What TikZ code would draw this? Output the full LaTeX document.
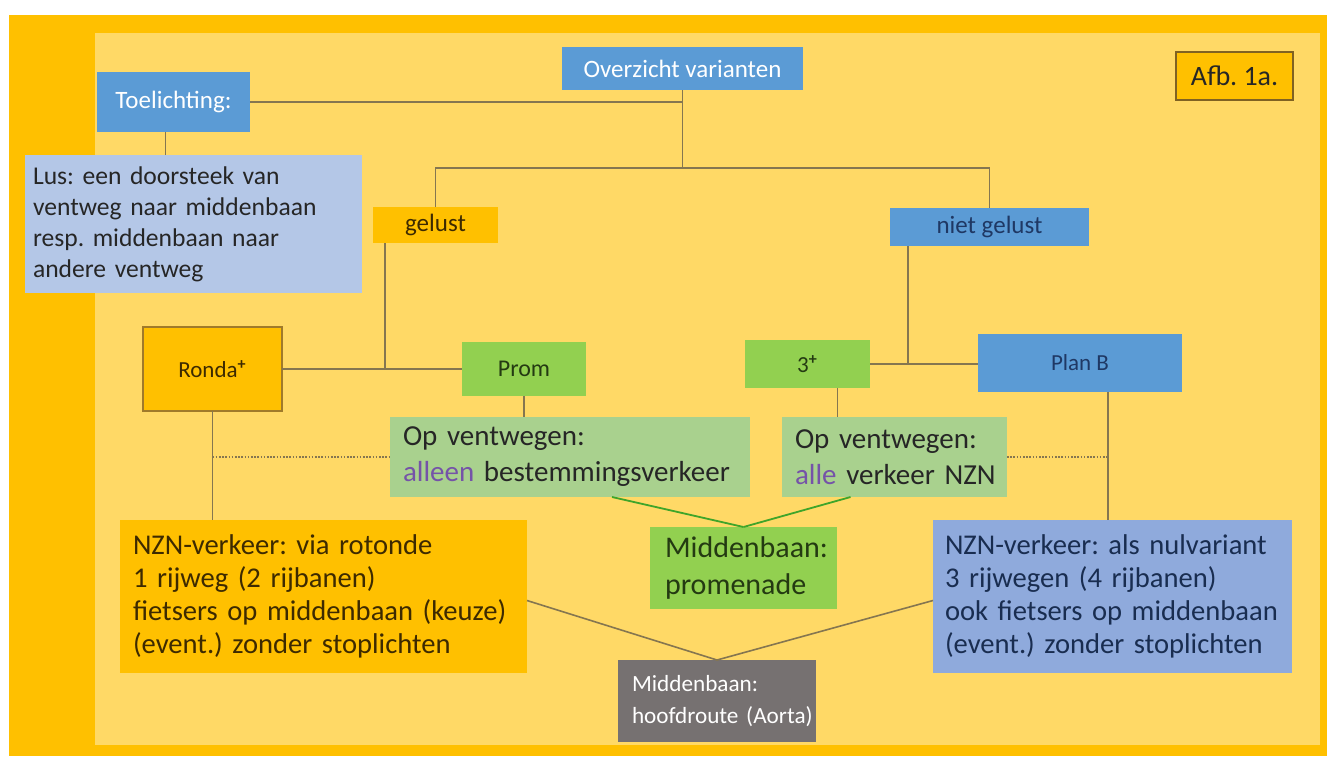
\documentclass[tikz,border=0pt]{standalone}
\usepackage{fontspec}
\setmainfont{Carlito}
\frenchspacing
\definecolor{frameor}{HTML}{FFC000}
\definecolor{inneryel}{HTML}{FFD966}
\definecolor{blueA}{HTML}{5B9BD5}
\definecolor{lusblue}{HTML}{B4C7E7}
\definecolor{nznblue}{HTML}{8FAADC}
\definecolor{greenA}{HTML}{92D050}
\definecolor{greenB}{HTML}{A9D18E}
\definecolor{greyA}{HTML}{767171}
\definecolor{linec}{HTML}{857650}
\definecolor{textdark}{HTML}{262626}
\definecolor{navy}{HTML}{1F3864}
\definecolor{dgreen}{HTML}{243A12}
\definecolor{brownt}{HTML}{3D2A00}
\definecolor{purp}{HTML}{7553A8}
\definecolor{bordbr}{HTML}{A07A2A}
\definecolor{greenline}{HTML}{3FA52A}
\begin{document}
\begin{tikzpicture}[x=0.5pt,y=-0.5pt,
  nbox/.style={inner sep=0pt, outer sep=0pt, align=center},
  lbox/.style={inner ysep=0pt, outer sep=0pt, align=left},
  conn/.style={draw=linec, line width=0.8pt},
  dotc/.style={draw=linec, line width=1pt, dash pattern=on 0.8pt off 0.8pt},
  small/.style={font=\fontsize{12.5}{14}\selectfont},
  big/.style={font=\fontsize{14.3}{16.5}\selectfont},
]
\useasboundingbox (0,0) rectangle (1327,756);
\fill[white] (0,0) rectangle (1327,756);
\fill[frameor] (9,15) rectangle (1327,756);
\fill[inneryel] (95,33) rectangle (1320,745);

% top level
\node[nbox, small, fill=blueA, text=white, minimum width=120.5pt, minimum height=21.5pt] (overz) at (682.5,68.5) {Overzicht varianten};
\node[nbox, fill=frameor, draw=bordbr!80!black, line width=0.6pt, text=textdark, font=\fontsize{14}{15}\selectfont, minimum width=58.5pt, minimum height=24pt] (afb) at (1234.5,76) {Afb. 1a.};
\node[nbox, small, fill=blueA, text=white, minimum width=76.5pt, minimum height=30pt] (toel) at (173.5,102) {Toelichting:};
\node[lbox, fill=lusblue, text=textdark, inner xsep=4pt, text width=160.5pt, minimum height=69pt, font=\fontsize{12.8}{15.5}\selectfont] (lus) at (193.5,224) {\mbox{Lus: een doorsteek van}\\\mbox{ventweg naar middenbaan}\\\mbox{resp. middenbaan naar}\\\mbox{andere ventweg}};

% second level
\node[nbox, small, fill=frameor, text=brownt, minimum width=62.5pt, minimum height=18pt] (gelust) at (435.5,225) {gelust};
\node[nbox, small, fill=blueA, text=navy, minimum width=99.5pt, minimum height=19pt] (niet) at (989.5,227) {niet gelust};

% variants
\node[nbox, fill=frameor, draw=bordbr, line width=0.6pt, text=brownt, font=\fontsize{11.5}{13}\selectfont, minimum width=69.5pt, minimum height=42pt] (ronda) at (212.5,369) {Ronda\textsuperscript{\textbf{+}}};
\node[nbox, fill=greenA, text=dgreen, font=\fontsize{12}{13}\selectfont, minimum width=62pt, minimum height=27pt] (prom) at (524,369) {Prom};
\node[nbox, fill=greenA, text=dgreen, font=\fontsize{11.5}{13}\selectfont, minimum width=62.5pt, minimum height=24pt] (three) at (807.5,364) {3\textsuperscript{\textbf{+}}};
\node[nbox, fill=blueA, text=navy, font=\fontsize{11.5}{13}\selectfont, minimum width=102pt, minimum height=29pt] (planb) at (1080,363) {Plan B};

% descriptions
\node[lbox, fill=greenB, text=textdark, inner xsep=6.5pt, text width=167pt, minimum height=40pt, font=\fontsize{14.5}{18}\selectfont] (opL) at (570,457) {\mbox{Op ventwegen:}\\\mbox{\textcolor{purp}{alleen} bestemmingsverkeer}};
\node[lbox, fill=greenB, text=textdark, inner xsep=6.5pt, text width=99.5pt, minimum height=40pt, font=\fontsize{14.5}{18}\selectfont] (opR) at (894.5,457) {\mbox{Op ventwegen:}\\\mbox{\textcolor{purp}{alle} verkeer NZN}};
\node[lbox, fill=greenA, text=dgreen, inner xsep=7.5pt, text width=78.5pt, minimum height=41pt, font=\fontsize{15}{18.5}\selectfont] (prom2) at (743.5,568) {\mbox{Middenbaan:}\\\mbox{promenade}};
\node[lbox, fill=frameor, text=brownt, inner xsep=6.5pt, text width=190.5pt, minimum height=76.5pt, big] (nznL) at (323.5,596.5) {\mbox{NZN-verkeer: via rotonde}\\\mbox{1 rijweg (2 rijbanen)}\\\mbox{fietsers op middenbaan (keuze)}\\\mbox{(event.) zonder stoplichten}};
\node[lbox, fill=nznblue, text=navy!80!black, inner xsep=6pt, text width=167.5pt, minimum height=76.5pt, big] (nznR) at (1112.5,596.5) {\mbox{NZN-verkeer: als nulvariant}\\\mbox{3 rijwegen (4 rijbanen)}\\\mbox{ook fietsers op middenbaan}\\\mbox{(event.) zonder stoplichten}};
\node[lbox, fill=greyA, text=white, inner xsep=7pt, text width=85pt, minimum height=41pt, font=\fontsize{11.6}{16}\selectfont] (hoofd) at (717,701) {\mbox{Middenbaan:}\\\mbox{hoofdroute (Aorta)}};

% connectors
\coordinate (j1) at (682.5,168);
\draw[conn] (toel.east) -- (toel.east -| overz.south);
\draw[conn] (overz.south) -- (j1);
\draw[conn] (gelust.north) |- (j1) -| (niet.north);
\coordinate (tl) at ([xshift=-4pt]toel.south);
\draw[conn] (tl) -- (tl |- lus.north);
\coordinate (gl) at ([xshift=6pt]gelust.south west);
\draw[conn] (gl) -- (gl |- ronda.east);
\draw[conn] (ronda.east) -- (prom.west);
\coordinate (nl) at ([xshift=9pt]niet.south west);
\draw[conn] (nl) -- (nl |- three.east);
\draw[conn] (three.east) -- (three.east -| planb.west);
\draw[conn] (prom.south) -- (prom.south |- opL.north);
\coordinate (tb) at ([xshift=15pt]three.south);
\draw[conn] (tb) -- (tb |- opR.north);
\draw[conn] (ronda.south) -- (ronda.south |- nznL.north);
\coordinate (pb) at ([xshift=14pt]planb.south);
\draw[conn] (pb) -- (pb |- nznR.north);
\draw[dotc] (ronda.south |- opL.west) -- (opL.west);
\draw[dotc] (opR.east) -- (opR.east -| pb);
\draw[greenline, line width=0.9pt] ([xshift=21pt]opL.south) -- (prom2.north);
\draw[greenline, line width=0.9pt] ([xshift=-22pt]opR.south) -- (prom2.north);
\draw[conn] ([yshift=-2pt]nznL.east) -- (hoofd.north);
\draw[conn] ([yshift=-2pt]nznR.west) -- (hoofd.north);
\end{tikzpicture}
\end{document}
